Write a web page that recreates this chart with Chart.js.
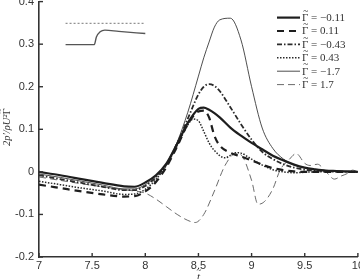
<!DOCTYPE html>
<html>
<head>
<meta charset="utf-8">
<script src="https://cdn.jsdelivr.net/npm/chart.js@4/dist/chart.umd.min.js"></script>
<style>
  html, body { margin: 0; padding: 0; background: #fff; overflow: hidden; }
  body { width: 360px; height: 279px; position: relative; }
  #wrap { position: absolute; left: 0; top: -10px; width: 366px; height: 292px; }
</style>
</head>
<body>
<div id="wrap"><canvas id="chart"></canvas></div>
<script>
// time axis (t~) for the smooth curves
const tMain = [7.0, 7.2, 7.4, 7.6, 7.8, 7.9, 8.0, 8.1, 8.2, 8.3, 8.4, 8.5, 8.55, 8.6, 8.65, 8.7, 8.8, 8.9, 9.0, 9.1, 9.2, 9.3, 9.4, 9.5, 9.6, 9.7, 9.8, 9.9, 10.0];
const gNeg011 = [0.0, -0.008, -0.017, -0.026, -0.034, -0.035, -0.025, -0.008, 0.02, 0.066, 0.115, 0.148, 0.151, 0.146, 0.138, 0.128, 0.104, 0.085, 0.068, 0.053, 0.038, 0.027, 0.017, 0.01, 0.006, 0.003, 0.002, 0.001, 0.0];
const gPos011 = [-0.03, -0.038, -0.046, -0.053, -0.058, -0.057, -0.046, -0.024, 0.012, 0.06, 0.112, 0.142, 0.144, 0.128, 0.085, 0.062, 0.045, 0.036, 0.027, 0.017, 0.009, 0.004, 0.001, 0.0, 0.0, 0.0, 0.0, 0.0, 0.0];
const gNeg043 = [-0.008, -0.017, -0.026, -0.035, -0.043, -0.043, -0.033, -0.013, 0.018, 0.067, 0.125, 0.182, 0.2, 0.206, 0.202, 0.19, 0.152, 0.112, 0.076, 0.047, 0.03, 0.018, 0.01, 0.005, 0.003, 0.002, 0.001, 0.0, 0.0];
const gNeg17 = [-0.005, -0.013, -0.022, -0.031, -0.04, -0.04, -0.03, -0.011, 0.02, 0.07, 0.14, 0.225, 0.268, 0.305, 0.34, 0.357, 0.361, 0.31, 0.2, 0.103, 0.055, 0.03, 0.016, 0.009, 0.005, 0.003, 0.002, 0.001, 0.0];

const tDot = [7.0, 7.2, 7.4, 7.6, 7.8, 7.9, 8.0, 8.1, 8.2, 8.3, 8.4, 8.45, 8.5, 8.55, 8.6, 8.65, 8.75, 8.85, 8.9, 9.0, 9.1, 9.2, 9.3, 9.4, 9.6, 9.8, 10.0];
const gPos043 = [-0.022, -0.03, -0.038, -0.045, -0.053, -0.052, -0.041, -0.018, 0.016, 0.062, 0.11, 0.124, 0.12, 0.095, 0.068, 0.05, 0.033, 0.045, 0.044, 0.03, 0.016, 0.005, 0.0, -0.002, 0.0, 0.0, 0.0];

const tWave = [7.0, 7.2, 7.4, 7.6, 7.8, 7.9, 8.0, 8.1, 8.2, 8.3, 8.4, 8.47, 8.55, 8.65, 8.75, 8.85, 8.9, 9.0, 9.06, 9.12, 9.2, 9.27, 9.35, 9.42, 9.5, 9.55, 9.62, 9.7, 9.78, 9.84, 9.9, 9.95, 10.0];
const gPos17 = [-0.012, -0.02, -0.028, -0.035, -0.042, -0.045, -0.05, -0.064, -0.082, -0.1, -0.114, -0.119, -0.1, -0.045, 0.015, 0.043, 0.04, -0.02, -0.076, -0.07, -0.04, 0.005, 0.028, 0.043, 0.02, 0.015, 0.018, 0.0, -0.017, -0.01, -0.004, 0.004, 0.0];

// inset sketch (drawn in main axis units)
const tInset = [7.25, 7.52, 7.54, 7.575, 7.62, 7.75, 8.0];
const insetStep = [0.299, 0.299, 0.317, 0.329, 0.333, 0.33, 0.325];
const tInsetRef = [7.25, 8.0];
const insetRef = [0.349, 0.349];

const seriesValues = ['−0.11', '0.11', '−0.43', '0.43', '−1.7', '1.7'];
const xTicks = [7, 7.5, 8, 8.5, 9, 9.5, 10];
const yTicks = [-0.2, -0.1, 0, 0.1, 0.2, 0.3, 0.4];

const pts = (xs, ys) => xs.map((x, i) => ({ x, y: ys[i] }));

const line = (label, xs, ys, color, width, dash) => ({
  label,
  data: pts(xs, ys),
  showLine: true,
  borderColor: color,
  borderWidth: width,
  borderDash: dash,
  pointRadius: 0,
  cubicInterpolationMode: 'monotone',
  fill: false,
});

const datasets = [
  line(seriesValues[0], tMain, gNeg011, '#1e1e1e', 2.2, []),
  line(seriesValues[1], tMain, gPos011, '#1e1e1e', 2.2, [7, 5]),
  line(seriesValues[2], tMain, gNeg043, '#2a2a2a', 1.8, [5, 2, 1.5, 2]),
  line(seriesValues[3], tDot, gPos043, '#2a2a2a', 1.5, [1.5, 1.5]),
  line(seriesValues[4], tMain, gNeg17, '#3a3a3a', 0.9, []),
  line(seriesValues[5], tWave, gPos17, '#5a5a5a', 0.9, [7, 4]),
  line('inset', tInset, insetStep, '#555', 1.4, []),
  line('insetRef', tInsetRef, insetRef, '#777', 1, [2, 2]),
];

const SERIF = '"Liberation Serif", "DejaVu Serif", serif';

// draws "Γ" with a tilde above it, returns its width
function gammaTilde(ctx, x, y, size) {
  ctx.fillText('Γ', x, y);
  const w = ctx.measureText('Γ').width;
  ctx.save();
  ctx.font = (size * 0.85) + 'px ' + SERIF;
  ctx.textAlign = 'center';
  ctx.fillText('~', x + w / 2 + 0.5, y - size * 0.62);
  ctx.restore();
  return w;
}

// inward ticks like the original figure
const innerTicks = {
  id: 'innerTicks',
  afterDraw(chart) {
    const { ctx, chartArea: a, scales: { x, y } } = chart;
    ctx.save();
    ctx.strokeStyle = '#333';
    ctx.lineWidth = 1.4;
    xTicks.forEach(v => {
      const px = x.getPixelForValue(v);
      ctx.beginPath(); ctx.moveTo(px, a.bottom); ctx.lineTo(px, a.bottom - 4); ctx.stroke();
    });
    yTicks.forEach(v => {
      const py = y.getPixelForValue(v);
      ctx.beginPath(); ctx.moveTo(a.left, py); ctx.lineTo(a.left + 4, py); ctx.stroke();
    });
    ctx.restore();
  }
};

// legend in the upper right corner + axis titles
const labelsPlugin = {
  id: 'labelsPlugin',
  afterDraw(chart) {
    const { ctx, chartArea: a } = chart;
    const x0 = a.left + 238, x1 = a.left + 261, top = a.top + 16, gap = 13.4;
    ctx.save();
    ctx.font = '11px ' + SERIF;
    ctx.textBaseline = 'middle';
    chart.data.datasets.slice(0, 6).forEach((ds, i) => {
      const yy = top + i * gap;
      ctx.strokeStyle = ds.borderColor;
      ctx.lineWidth = ds.borderWidth;
      ctx.setLineDash(ds.borderDash);
      ctx.beginPath(); ctx.moveTo(x0, yy); ctx.lineTo(x1, yy); ctx.stroke();
      ctx.setLineDash([]);
      ctx.fillStyle = '#333';
      const gx = x1 + 2;
      const w = gammaTilde(ctx, gx, yy + 0.5, 11);
      ctx.fillText(' = ' + ds.label, gx + w, yy + 0.5);
    });

    // x title
    ctx.font = 'italic 11px ' + SERIF;
    ctx.textAlign = 'center';
    ctx.textBaseline = 'alphabetic';
    const cx = (a.left + a.right) / 2;
    ctx.fillText('t', cx, a.bottom + 23);
    ctx.font = '9px ' + SERIF;
    ctx.fillText('~', cx + 0.5, a.bottom + 16);

    // y title (rotated)
    ctx.save();
    ctx.translate(a.left - 29, (a.top + a.bottom) / 2 - 2);
    ctx.rotate(-Math.PI / 2);
    ctx.font = 'italic 10.5px ' + SERIF;
    ctx.textAlign = 'left';
    const head = '2p′/ρU²';
    const wh = ctx.measureText(head).width;
    const wg = ctx.measureText('Γ').width;
    const sx = -(wh + wg) / 2;
    ctx.fillText(head, sx, 0);
    ctx.font = '10.5px ' + SERIF;
    gammaTilde(ctx, sx + wh, 0, 10.5);
    ctx.restore();
    ctx.restore();
  }
};

new Chart(document.getElementById('chart'), {
  type: 'scatter',
  data: { datasets },
  options: {
    responsive: true,
    maintainAspectRatio: false,
    animation: false,
    layout: { padding: 0 },
    plugins: { legend: { display: false }, tooltip: { enabled: false } },
    scales: {
      x: {
        type: 'linear',
        min: 7, max: 10,
        afterBuildTicks: s => { s.ticks = xTicks.map(v => ({ value: v })); },
        afterFit: s => { s.height = 25; },
        grid: { display: false, drawTicks: false },
        border: { display: true, color: '#333', width: 1.6 },
        ticks: {
          color: '#333', padding: 2, maxRotation: 0,
          font: { family: '"Liberation Sans", Arial, sans-serif', size: 11 },
          callback: v => String(v),
        },
      },
      y: {
        min: -0.2, max: 0.4,
        afterBuildTicks: s => { s.ticks = yTicks.map(v => ({ value: v })); },
        afterFit: s => { s.width = 39; },
        grid: { display: false, drawTicks: false },
        border: { display: true, color: '#333', width: 1.6 },
        ticks: {
          color: '#333', padding: 5,
          font: { family: '"Liberation Sans", Arial, sans-serif', size: 11 },
          callback: v => String(Number(v.toFixed(1))),
        },
      },
    },
  },
  plugins: [innerTicks, labelsPlugin],
});
</script>
</body>
</html>
